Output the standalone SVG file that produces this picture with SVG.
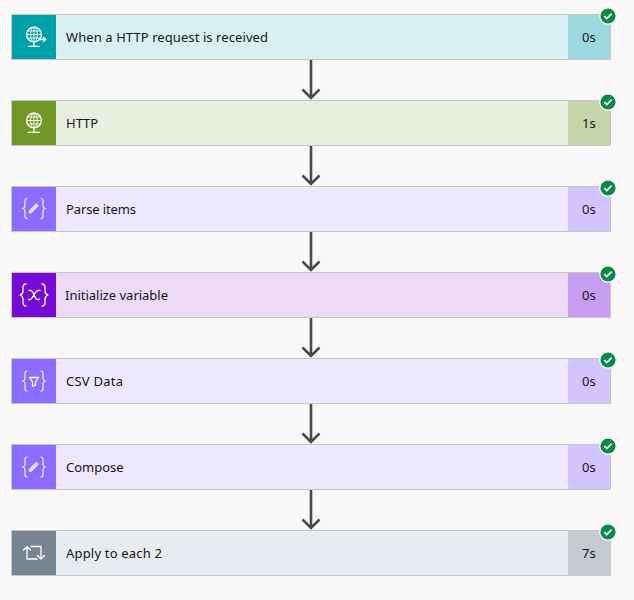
<svg xmlns="http://www.w3.org/2000/svg" width="634" height="600" viewBox="0 0 634 600">
<style>
.card{stroke:#c6c6c6;stroke-width:1}
.label{font-family:"Noto Sans","Open Sans","Liberation Sans",sans-serif;font-size:13px;fill:#14141c}
.glyph{fill:none;stroke:#fff;stroke-width:1.3;stroke-linecap:round;stroke-linejoin:round}
.thin{fill:none;stroke:#fff;stroke-width:.9;stroke-linecap:round}
.conn{fill:none;stroke:#4a4a4a;stroke-width:2.6}
</style>
<defs>
<g id="badge"><circle cx="0" cy="0" r="8.800" fill="#fff"/><circle cx="0" cy="0" r="7.600" fill="#0b8a47"/><path d="M-3.600 .2L-1.200 2.600L3.600-2.400" fill="none" stroke="#fff" stroke-width="1.700"/></g>
<g id="globe"><circle cx="0" cy="-2.500" r="7.400" class="glyph"/><ellipse cx="0" cy="-2.500" rx="3.400" ry="7.400" class="thin"/><path d="M-7.400-2.500H7.400M-6.300-6H6.300M-6.300 1H6.300M0-9.900V4.900" class="thin"/><path d="M0 5V9M-5.500 9.300H5.500" class="glyph"/></g>
<path id="braces" d="M-7-10Q-9-10-9-7.500V-3Q-9-.6-11 0Q-9 .6-9 3V7.500Q-9 10-7 10M7-10Q9-10 9-7.500V-3Q9-.6 11 0Q9 .6 9 3V7.500Q9 10 7 10" fill="none" stroke="#fff" stroke-opacity=".9" stroke-width="1.200" stroke-linecap="round"/>
<path id="pencil" d="M-4.200 4.400L-4.200 2L2-4.200Q3-5 3.900-4.100T4.200-2L-2 4.400Z" fill="#fff" fill-opacity=".75" stroke="#fff" stroke-width=".6"/>
</defs>
<rect width="634" height="600" fill="#f8f8f8"/>
<g id="connectors">
<path class="conn" d="M311 60V98M302.500 89.500L311 98L319.500 89.500"/>
<path class="conn" d="M311 146V184M302.500 175.500L311 184L319.500 175.500"/>
<path class="conn" d="M311 232V270M302.500 261.500L311 270L319.500 261.500"/>
<path class="conn" d="M311 318V356M302.500 347.500L311 356L319.500 347.500"/>
<path class="conn" d="M311 404V442M302.500 433.500L311 442L319.500 433.500"/>
<path class="conn" d="M311 490V528M302.500 519.500L311 528L319.500 519.500"/>
</g>
<g id="node-request">
<rect class="card" x="11.500" y="14.500" width="599" height="45" fill="#d9f0f3"/>
<rect x="12" y="15" width="44" height="44" fill="#00a0a8"/>
<rect x="568" y="15" width="42" height="44" fill="#9bd8e0"/>
<use href="#globe" transform="translate(34 37)"/>
<path d="M40 39.500H45.500M43.500 37.500L45.800 39.500L43.500 41.500" class="glyph"/>
<text class="label" x="66" y="42" textLength="202" lengthAdjust="spacing">When a HTTP request is received</text>
<text class="label" x="582" y="42">0s</text>
<use href="#badge" x="608" y="16"/>
</g>
<g id="node-http">
<rect class="card" x="11.500" y="100.500" width="599" height="45" fill="#e9efdf"/>
<rect x="12" y="101" width="44" height="44" fill="#709727"/>
<rect x="568" y="101" width="42" height="44" fill="#c6d5a9"/>
<use href="#globe" transform="translate(34 123)"/>
<text class="label" x="66" y="128">HTTP</text>
<text class="label" x="582" y="128">1s</text>
<use href="#badge" x="608" y="102"/>
</g>
<g id="node-parse">
<rect class="card" x="11.500" y="186.500" width="599" height="45" fill="#eee8fe"/>
<rect x="12" y="187" width="44" height="44" fill="#8c6cff"/>
<rect x="568" y="187" width="42" height="44" fill="#d1c4ff"/>
<use href="#braces" transform="translate(34 208.500)"/>
<use href="#pencil" transform="translate(33.500 208.500)"/>
<text class="label" x="66" y="214" textLength="70" lengthAdjust="spacing">Parse items</text>
<text class="label" x="582" y="214">0s</text>
<use href="#badge" x="608" y="188"/>
</g>
<g id="node-variable">
<rect class="card" x="11.500" y="272.500" width="599" height="45" fill="#ecdaf6"/>
<rect x="12" y="273" width="44" height="44" fill="#770bd6"/>
<rect x="568" y="273" width="42" height="44" fill="#c99ef0"/>
<path class="glyph" stroke-width="1.200" d="M26 284Q23 284 23 287.500V291Q23 294 20 295Q23 296 23 299V302.500Q23 306 26 306M42 284Q45 284 45 287.500V291Q45 294 48 295Q45 296 45 299V302.500Q45 306 42 306"/>
<path class="glyph" stroke-width="1.100" d="M29 290.500Q31.500 289.500 33 292.500L35.500 298Q37 300.500 39.500 299M40 290.500Q37.500 289.500 35.500 292.500L32 298Q30.500 300.500 28.500 299.500"/>
<text class="label" x="65" y="300" textLength="103" lengthAdjust="spacing">Initialize variable</text>
<text class="label" x="582" y="300">0s</text>
<use href="#badge" x="608" y="274"/>
</g>
<g id="node-csv">
<rect class="card" x="11.500" y="358.500" width="599" height="45" fill="#eee8fe"/>
<rect x="12" y="359" width="44" height="44" fill="#8c6cff"/>
<rect x="568" y="359" width="42" height="44" fill="#d1c4ff"/>
<use href="#braces" transform="translate(34 381)"/>
<path class="glyph" d="M29.500 377.500H38.500L35.500 382V385L32.500 386.500V382Z" stroke-width="1"/>
<text class="label" x="66" y="386" textLength="57" lengthAdjust="spacing">CSV Data</text>
<text class="label" x="582" y="386">0s</text>
<use href="#badge" x="608" y="360"/>
</g>
<g id="node-compose">
<rect class="card" x="11.500" y="444.500" width="599" height="45" fill="#eee8fe"/>
<rect x="12" y="445" width="44" height="44" fill="#8c6cff"/>
<rect x="568" y="445" width="42" height="44" fill="#d1c4ff"/>
<use href="#braces" transform="translate(34 467)"/>
<use href="#pencil" transform="translate(33.500 467)"/>
<text class="label" x="66" y="472">Compose</text>
<text class="label" x="582" y="472">0s</text>
<use href="#badge" x="608" y="446"/>
</g>
<g id="node-apply">
<rect class="card" x="11.500" y="530.500" width="599" height="45" fill="#e9ecee"/>
<rect x="12" y="531" width="44" height="44" fill="#778491"/>
<rect x="568" y="531" width="42" height="44" fill="#c3cad0"/>
<path class="glyph" d="M23.500 550L27 546.500L30.500 550M27 546.500V559H37M31 546.500H41V559M37.500 555.500L41 559L44.500 555.500" stroke-width="1.400"/>
<text class="label" x="66" y="558" textLength="96" lengthAdjust="spacing">Apply to each 2</text>
<text class="label" x="582" y="558">7s</text>
<use href="#badge" x="608" y="532"/>
</g>
</svg>
